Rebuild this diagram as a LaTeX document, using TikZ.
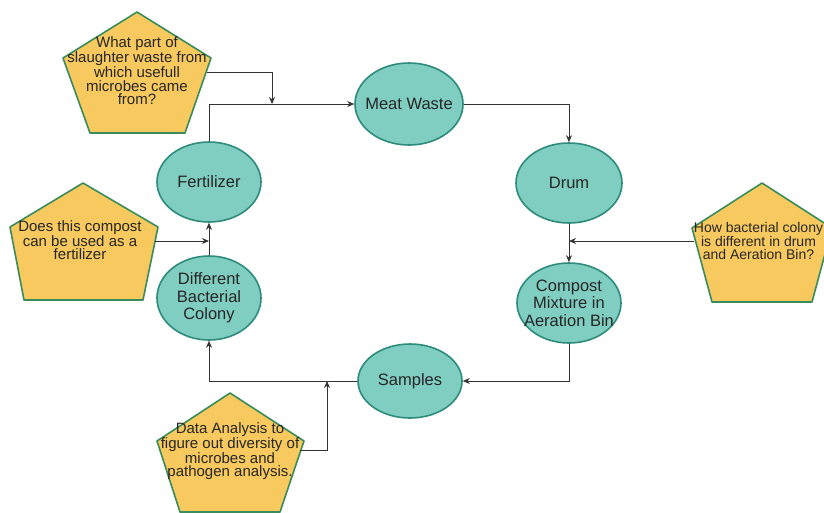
\documentclass[tikz,border=0pt]{standalone}
\usepackage{fontspec}
\setmainfont{Liberation Sans}
\usetikzlibrary{shapes.geometric,arrows.meta}
\definecolor{tealfill}{HTML}{80CDC1}
\definecolor{tealline}{HTML}{2E8C7C}
\definecolor{penfill}{HTML}{F7C95E}
\definecolor{penline}{HTML}{3A8C5C}
\definecolor{conn}{HTML}{333333}
\tikzset{
  oval/.style={ellipse, draw=tealline, fill=tealfill, line width=1.6pt, inner ysep=0pt, inner xsep=-14pt,
    align=center, font=\fontsize{16.5}{17.5}\selectfont, text=black!85},
  pent/.style={draw=penline, fill=penfill, line width=1.6pt, line join=round},
  penttext/.style={align=center, font=\fontsize{15}{13.5}\selectfont, text=black!85, inner sep=0pt},
  arr/.style={draw=conn, line width=0.8pt, -{Stealth[length=7pt,width=6pt]}},
}
\begin{document}
\begin{tikzpicture}[x=1pt,y=-1pt]
\useasboundingbox (0,0) rectangle (824,512);
\fill[white] (0,0) rectangle (824,512);
% pentagons
\begin{scope}
\clip (0,0) rectangle (824,512);
\draw[pent] (137,12) -- (211,58) -- (185,133) -- (90,133) -- (63,58) -- cycle;
\draw[pent] (83,183) -- (158,227) -- (143,300) -- (24,300) -- (10,227) -- cycle;
\draw[pent] (762,183) -- (832,228) -- (812,302) -- (712,302) -- (692,228) -- cycle;
\draw[pent] (230,393) -- (304,441) -- (280,512) -- (180,512) -- (157,441) -- cycle;
\end{scope}
\node[penttext] (q1) at (137,71) {What part of\\slaughter waste from\\which usefull\\microbes came\\from?};
\node[penttext] (q2) at (80,240) {Does this compost\\can be used as a\\fertilizer};
\node[penttext, font=\fontsize{14}{13.5}\selectfont] (q3) at (758.5,241) {How bacterial colony\\is different in drum\\and Aeration Bin?};
\node[penttext] (q4) at (230,451) {Data Analysis to\\figure out diversity of\\microbes and\\pathogen analysis.};
% ellipses
\node[oval, minimum width=108pt, minimum height=82pt] (meat) at (409,104) {Meat Waste};
\node[oval, minimum width=106pt, minimum height=80pt] (drum) at (569,183) {Drum};
\node[oval, minimum width=104pt, minimum height=80pt] (comp) at (569,303) {Compost\\Mixture in\\Aeration Bin};
\node[oval, minimum width=104pt, minimum height=74pt] (samp) at (410,381) {Samples};
\node[oval, minimum width=104pt, minimum height=84pt] (colo) at (209,298) {Different\\Bacterial\\Colony};
\node[oval, minimum width=104pt, minimum height=80pt] (fert) at (209,182) {Fertilizer};
% connector endpoints
\coordinate (q1o) at (207,72);
\coordinate (j1) at (272,104);
\coordinate (q2o) at (155,241);
\coordinate (j2) at (209,241);
\coordinate (q3o) at (694,241);
\coordinate (j3) at (569,241);
\coordinate (q4o) at (300,450);
\coordinate (j4) at (327,381);
% connectors
\draw[arr] (fert.north) |- (meat.west);
\draw[arr] (q1o) -| (j1);
\draw[arr] (meat.east) -| (drum.north);
\draw[arr] (drum.south) -- (comp.north);
\draw[arr] (q3o) -- (j3);
\draw[arr] (comp.south) |- (samp.east);
\draw[arr] (samp.west) -| (colo.south);
\draw[arr] (q4o) -| (j4);
\draw[arr] (colo.north) -- (fert.south);
\draw[arr] (q2o) -- (j2);
\end{tikzpicture}
\end{document}
